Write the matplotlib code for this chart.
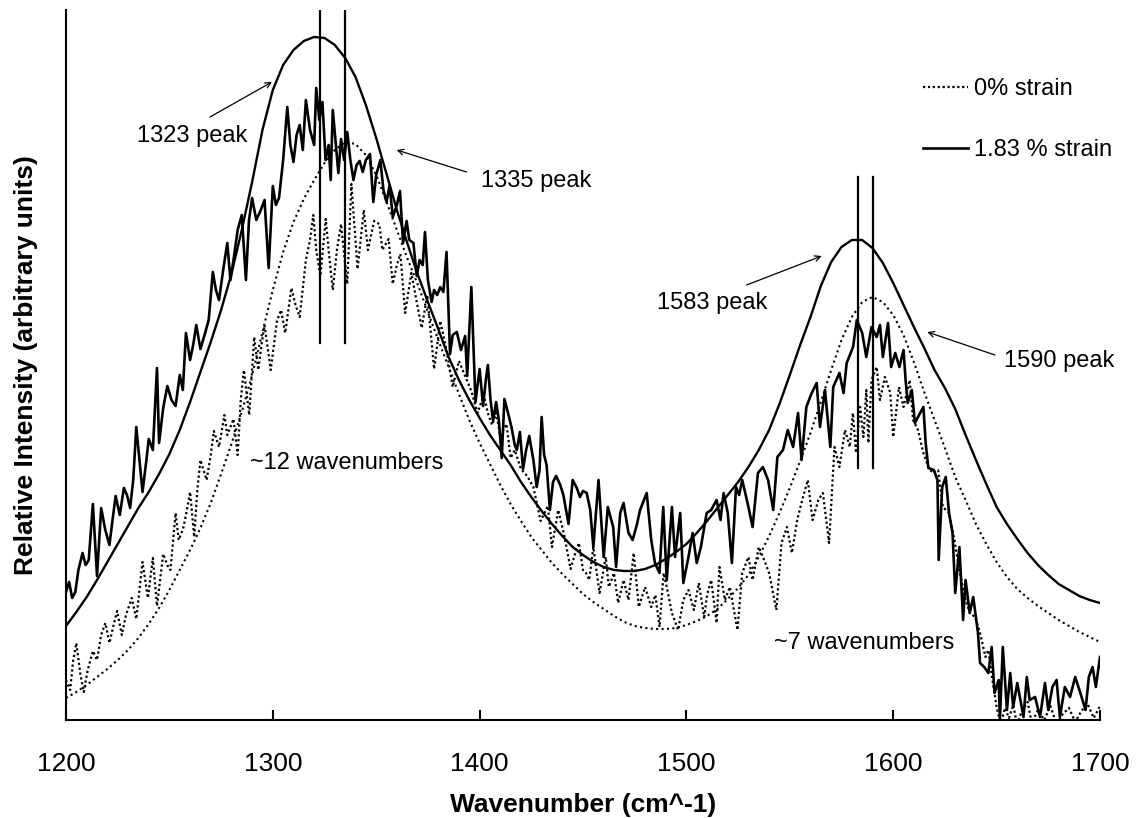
import numpy as np
from matplotlib import pyplot as plt

plt.rcParams['font.family'] = ['Liberation Sans', 'DejaVu Sans']

# measured spectrum, 1.83 % strain
wn_183 = [1200, 1201.5, 1203, 1204.5, 1206, 1208, 1209.5, 1211, 1213, 1215, 1217, 1219, 1221, 1222.5, 1224,
          1226, 1228, 1229.5, 1231, 1232.5, 1234, 1236, 1237, 1239, 1240, 1242, 1244, 1245, 1247, 1249,
          1251, 1253, 1255, 1256.5, 1258, 1260, 1261.5, 1263, 1265, 1267, 1269, 1271, 1272.5, 1274, 1276,
          1278, 1279.5, 1281, 1283, 1285, 1287, 1288.5, 1290, 1292, 1294, 1296, 1298, 1300, 1301.5, 1303,
          1305, 1307, 1308.5, 1310, 1311.5, 1313, 1314.5, 1316, 1318, 1320, 1321, 1322.5, 1324, 1325.5, 1327,
          1328, 1329, 1330.5, 1331.7, 1333, 1334.5, 1336, 1337.5, 1339, 1340.5, 1342, 1343.5, 1345, 1347, 1348.6,
          1350, 1352, 1353.5, 1355, 1356.5, 1358, 1360, 1361.5, 1363, 1364.7, 1366, 1368, 1369.6, 1371, 1372.5,
          1373.6, 1375, 1376.8, 1378, 1379.5, 1381, 1382.5, 1384, 1385.7, 1387, 1389, 1391, 1393, 1394, 1396,
          1398, 1400, 1401.7, 1403, 1404, 1405.3, 1406.5, 1408, 1409.3, 1410.7, 1412, 1414, 1415.5, 1417, 1418,
          1419.5, 1421, 1422.5, 1424, 1426, 1427.6, 1429, 1430, 1431.2, 1432.4, 1434, 1435.5, 1437, 1439, 1440.5,
          1443, 1445, 1447, 1448.5, 1450, 1451.8, 1453.5, 1455, 1457.5, 1460, 1462, 1464.6, 1466, 1468, 1469.6,
          1472, 1474, 1476, 1477.6, 1480.8, 1483, 1484.8, 1487, 1488.8, 1490.5, 1493, 1494.5, 1497, 1498.5, 1501,
          1503, 1505, 1507, 1509.8, 1512, 1514.6, 1516.5, 1518, 1520, 1522, 1524, 1525.5, 1527, 1530, 1532,
          1534.6, 1537, 1539.5, 1542, 1544, 1546.7, 1549, 1551.6, 1554, 1555.7, 1558, 1560.6, 1563, 1564.6, 1567,
          1569.6, 1571, 1574, 1576, 1577.5, 1580.6, 1582.4, 1585, 1587, 1589.5, 1592, 1593.6, 1595, 1597.5, 1599,
          1601, 1603, 1605, 1606, 1607, 1609, 1610.5, 1613, 1614.6, 1615.7, 1617, 1619.6, 1621.4, 1622, 1623.7,
          1625.4, 1627, 1628.7, 1630, 1632, 1633.8, 1635, 1637, 1638.7, 1641, 1642, 1644, 1646, 1647.6, 1649,
          1651, 1651.6, 1653, 1655, 1656.6, 1658, 1660, 1663, 1664.6, 1666, 1668.6, 1671, 1673.4, 1675, 1677,
          1679, 1680.6, 1683, 1685.5, 1688, 1690.5, 1693, 1694.6, 1696.4, 1698, 1700]
int_183 = [128, 138, 122, 128, 150, 167, 155, 160, 216, 144, 212, 190, 175, 200, 224,
           205, 232, 225, 212, 240, 293, 250, 228, 262, 281, 270, 352, 277, 312, 334,
           320, 314, 345, 330, 387, 360, 375, 395, 371, 385, 400, 448, 430, 420, 450,
           477, 440, 460, 490, 505, 440, 500, 522, 500, 509, 520, 452, 534, 515, 522,
           560, 613, 575, 558, 585, 595, 570, 620, 590, 575, 632, 600, 618, 560, 575,
           540, 610, 575, 547, 581, 560, 588, 560, 540, 555, 559, 548, 560, 566, 518,
           545, 560, 530, 518, 535, 503, 515, 529, 477, 499, 480, 477, 444, 460, 455,
           488, 440, 418, 430, 425, 433, 428, 468, 366, 385, 388, 370, 384, 344, 433,
           318, 351, 314, 340, 355, 320, 299, 318, 300, 262, 321, 305, 292, 275, 270,
           288, 251, 270, 284, 260, 233, 250, 303, 265, 255, 210, 238, 244, 235, 225,
           196, 240, 232, 223, 229, 227, 210, 173, 240, 163, 213, 193, 153, 207, 217,
           187, 180, 195, 210, 227, 180, 157, 147, 213, 140, 213, 163, 207, 137, 163,
           187, 157, 173, 207, 210, 220, 200, 227, 207, 157, 233, 225, 240, 213, 193,
           247, 253, 240, 210, 263, 270, 290, 273, 307, 260, 313, 327, 337, 293, 330,
           273, 333, 347, 327, 357, 373, 400, 387, 363, 393, 383, 395, 363, 397, 353,
           367, 353, 370, 340, 317, 330, 297, 307, 313, 277, 252, 250, 240, 160, 233,
           243, 207, 187, 127, 173, 100, 140, 107, 123, 87, 57, 53, 47, 73, 27,
           40, 0, 73, 10, 47, 13, 37, 3, 43, 20, 23, 3, 37, 10, 33,
           40, 3, 33, 23, 43, 27, 10, 43, 53, 33, 63]

# measured spectrum, 0 % strain
wn_0 = [1200, 1202, 1203.5, 1205, 1207, 1208.6, 1210.5, 1213, 1215, 1217, 1219, 1221, 1223, 1224.7, 1227,
        1229, 1231.8, 1234, 1235.5, 1237, 1239.6, 1242, 1244, 1245.5, 1247, 1249, 1250.5, 1253, 1254.5, 1256.6,
        1258, 1260, 1262, 1263.5, 1265, 1268, 1270, 1271.5, 1274, 1276.6, 1278, 1281, 1283, 1284.5, 1286,
        1288.6, 1291, 1293, 1294.5, 1296, 1299, 1302, 1304, 1306, 1309, 1311, 1313, 1316, 1318, 1319.6,
        1321, 1323, 1325.6, 1327, 1329, 1331, 1333, 1336, 1338, 1341, 1344, 1346, 1349, 1351.5, 1353,
        1356, 1358, 1360, 1361.7, 1364, 1367, 1369.6, 1372, 1374.7, 1378, 1381, 1384, 1387, 1390, 1393,
        1396, 1399, 1402, 1404, 1406, 1408, 1410, 1413, 1415, 1417, 1420, 1423, 1426, 1429.5, 1433,
        1435, 1438, 1441, 1444, 1446, 1448, 1450, 1451.5, 1453, 1455, 1456.5, 1458, 1461, 1462.5, 1465,
        1467, 1469.6, 1472, 1474.5, 1477, 1480, 1483, 1485, 1487, 1489, 1490.5, 1493, 1496, 1498.5, 1501,
        1503.6, 1506, 1508.6, 1510, 1512, 1514.6, 1516, 1518.6, 1521, 1523, 1524.7, 1527, 1530, 1532, 1535,
        1537.6, 1540, 1543.5, 1546, 1548.6, 1551, 1553.6, 1556, 1558.7, 1561, 1563.8, 1566, 1569, 1571.6, 1574,
        1576.7, 1579, 1580.5, 1582, 1584, 1585.6, 1587, 1588, 1589.5, 1592, 1593.6, 1596, 1598.6, 1600, 1602.8,
        1605, 1608, 1609.6, 1612, 1614.6, 1617, 1619, 1621.7, 1624, 1627, 1629.6, 1632, 1634.6, 1637, 1639.6,
        1642, 1644.6, 1646, 1648, 1650, 1652, 1654, 1656, 1658, 1660, 1662, 1665, 1667, 1670, 1673,
        1676, 1679, 1682, 1685, 1688, 1691, 1694, 1697, 1700]
int_0 = [40, 30, 60, 77, 45, 28, 50, 69, 60, 85, 97, 77, 95, 109, 85,
         105, 122, 101, 130, 158, 122, 162, 114, 140, 166, 155, 150, 207, 180, 191,
         205, 228, 183, 230, 260, 240, 265, 289, 273, 305, 285, 301, 265, 320, 350,
         305, 383, 350, 375, 395, 350, 399, 410, 387, 432, 415, 403, 460, 480, 505,
         470, 444, 501, 470, 430, 470, 496, 436, 536, 451, 510, 470, 499, 496, 470,
         481, 436, 455, 466, 407, 447, 418, 392, 425, 351, 399, 370, 333, 359, 344,
         329, 307, 325, 307, 295, 307, 284, 296, 262, 270, 251, 244, 233, 199, 214,
         173, 210, 184, 151, 165, 177, 150, 147, 140, 173, 150, 127, 163, 133, 147,
         117, 140, 120, 167, 113, 133, 113, 125, 93, 147, 133, 107, 90, 120, 130,
         110, 137, 103, 125, 140, 97, 153, 120, 133, 110, 90, 147, 163, 140, 173,
         160, 147, 110, 177, 193, 167, 200, 220, 240, 200, 220, 227, 177, 273, 253,
         290, 273, 307, 267, 313, 283, 330, 277, 340, 353, 320, 343, 327, 283, 333,
         313, 340, 300, 290, 267, 253, 247, 250, 213, 207, 180, 150, 123, 107, 103,
         87, 63, 70, 40, 13, -5, 12, 2, 15, -5, 8, 18, -3, 10, 0,
         14, -4, 6, 12, -2, 9, 16, 2, 14]

# fitted curves, every 5 cm^-1 from 1200 to 1700
fit_wn = np.arange(1200, 1705, 5)
fit_183 = [94, 108, 123, 140, 158, 176, 194, 212, 228, 246, 266, 290, 318, 348, 378, 410, 446, 490, 538, 590,
           630, 655, 670, 679, 683, 682, 675, 662, 643, 615, 582, 546, 510, 477, 446, 418, 391, 363, 340, 320,
           302, 285, 270, 255, 238, 223, 209, 196, 184, 173, 165, 158, 153, 150, 149, 149, 151, 155, 161, 168,
           176, 187, 199, 212, 225, 238, 253, 270, 290, 316, 345, 375, 403, 434, 458, 473, 480, 480, 472, 457,
           437, 415, 393, 372, 350, 332, 311, 285, 260, 236, 213, 196, 181, 167, 155, 145, 136, 130, 124, 120, 117]
fit_0 = [22, 28, 35, 43, 51, 60, 70, 82, 96, 112, 130, 150, 170, 192, 217, 246, 276, 308, 345, 388,
         430, 468, 498, 521, 540, 557, 570, 578, 576, 565, 545, 518, 490, 462, 436, 408, 380, 353, 326, 300,
         277, 256, 235, 216, 199, 183, 170, 157, 146, 136, 126, 118, 111, 104, 98, 94, 92, 91, 91, 92,
         95, 99, 104, 111, 121, 132, 145, 163, 184, 207, 232, 259, 287, 318, 350, 380, 403, 418, 423, 418,
         405, 385, 358, 328, 300, 272, 243, 220, 196, 176, 158, 143, 131, 122, 114, 107, 100, 94, 88, 83, 78]

# peak position markers: (wavenumber, bottom, top)
markers = [(1323, 377, 710), (1335, 377, 710), (1583, 252, 543), (1590, 252, 543)]

fig = plt.figure(figsize=(11.42, 8.18), dpi=100)
ax = fig.add_axes([66 / 1142, 98 / 818, 1034 / 1142, 710 / 818])

ax.plot(wn_0, int_0, color='black', lw=1.6, ls=(0, (1, 1.2)), label='0% strain')
ax.plot(wn_183, int_183, color='black', lw=1.9, label='1.83 % strain')
ax.plot(fit_wn, fit_0, color='black', lw=1.5, ls=(0, (1, 1.6)))
ax.plot(fit_wn, fit_183, color='black', lw=1.7)

for wn, lo, hi in markers:
    ax.plot([wn, wn], [lo, hi], color='black', lw=1.6)

ax.set_xlim(1200, 1700)
ax.set_ylim(0, 710)
ax.set_xticks([1200, 1300, 1400, 1500, 1600, 1700])
ax.set_yticks([])
ax.tick_params(axis='x', direction='in', length=7, width=1.5, labelsize=19, pad=23)
for s in ['top', 'right']:
    ax.spines[s].set_visible(False)
ax.spines['left'].set_linewidth(1.5)
ax.spines['bottom'].set_linewidth(1.5)

ax.set_xlabel('Wavenumber (cm^-1)', fontsize=19, fontweight='bold', labelpad=12)
ax.set_ylabel('Relative Intensity (arbitrary units)', fontsize=19, fontweight='bold', labelpad=20)

arrow = dict(arrowstyle='->', color='black', lw=0.9, shrinkA=0, shrinkB=0)
ax.annotate('', xy=(1299.6, 638), xytext=(1269.6, 603), arrowprops=arrow)
ax.annotate('', xy=(1359.9, 570), xytext=(1393.7, 548), arrowprops=arrow)
ax.annotate('', xy=(1565.4, 464), xytext=(1529.1, 435), arrowprops=arrow)
ax.annotate('', xy=(1616.5, 388), xytext=(1649.2, 365), arrowprops=arrow)

ax.text(1260.9, 584, '1323 peak', fontsize=17, ha='center', va='center')
ax.text(1427.3, 539, '1335 peak', fontsize=17, ha='center', va='center')
ax.text(1512.6, 417, '1583 peak', fontsize=17, ha='center', va='center')
ax.text(1680.2, 359, '1590 peak', fontsize=17, ha='center', va='center')
ax.text(1335.7, 257, '~12 wavenumbers', fontsize=17, ha='center', va='center')
ax.text(1585.8, 77, '~7 wavenumbers', fontsize=17, ha='center', va='center')

ax.legend(loc='upper left', bbox_to_anchor=(0.829, 0.904), frameon=False, fontsize=17,
          handlelength=1.9, handletextpad=0.25, labelspacing=1.65, borderpad=0, borderaxespad=0)

fig.savefig('out.png', dpi=100)
